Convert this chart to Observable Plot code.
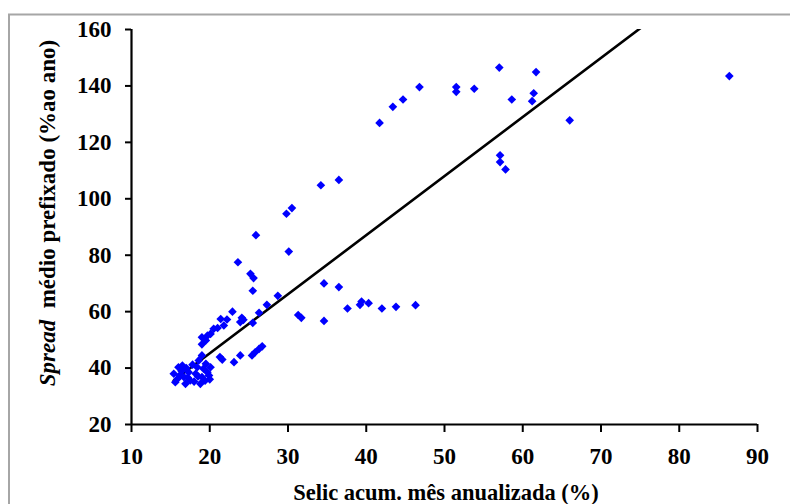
<!DOCTYPE html>
<html>
<head>
<meta charset="utf-8">
<script src="https://cdn.jsdelivr.net/npm/d3@7"></script>
<script src="https://cdn.jsdelivr.net/npm/@observablehq/plot@0.6"></script>
<style>
  html, body { margin: 0; padding: 0; background: #fff; }
  #chart { width: 790px; height: 504px; overflow: hidden; }
</style>
</head>
<body>
<div id="chart"></div>
<script>
// Selic acumulada no mês anualizada (%)
const selic = [
  41.7, 43.4, 44.7, 46.8, 51.5, 51.5, 53.8, 57.0, 61.7, 58.6, 61.4, 61.2, 66.0, 57.1, 57.1, 57.8, 86.4,
  29.8, 30.5, 34.2, 36.5, 25.9, 30.1, 23.6, 25.2, 25.6, 25.5, 28.7, 27.3, 26.3, 34.6, 36.5, 37.6, 39.2, 39.4, 40.3, 42.0, 43.8, 46.3,
  31.3, 31.7, 34.6, 22.9, 24.1, 24.3, 23.9, 25.5, 22.2, 21.4, 21.8, 21.0, 20.5, 20.1, 19.7, 19.0, 19.5, 19.0,
  26.7, 26.3, 25.8, 25.4, 23.9, 23.1, 21.6, 21.3, 19.0,
  15.4, 15.6, 16.0, 16.5, 16.7, 16.9, 17.3, 17.5, 18.2, 18.4, 18.6, 18.8, 19.0, 19.2, 19.5, 19.7, 19.9, 20.1,
  16.2, 17.0, 15.9, 18.0, 19.4, 20.0, 17.8, 16.4, 18.5, 17.2
];
// Spread médio prefixado (% ao ano)
const spread = [
  126.9, 132.6, 135.2, 139.6, 139.6, 137.9, 139.0, 146.5, 144.9, 135.2, 137.4, 134.6, 127.8, 115.4, 113.0, 110.4, 143.5,
  94.7, 96.7, 104.8, 106.7, 87.1, 81.3, 77.5, 73.4, 71.9, 67.4, 65.6, 62.4, 59.6, 70.0, 68.7, 61.1, 62.4, 63.6, 63.0, 61.1, 61.7, 62.3,
  58.8, 57.8, 56.7, 60.0, 57.8, 57.1, 56.3, 56.0, 57.2, 57.4, 55.1, 54.2, 53.9, 52.1, 51.5, 50.9, 49.8, 48.4,
  47.7, 46.8, 45.6, 44.5, 44.5, 42.1, 43.0, 43.9, 44.5,
  38.0, 35.0, 40.3, 40.9, 36.8, 34.4, 38.5, 35.6, 38.0, 40.3, 42.7, 34.4, 36.8, 39.8, 41.5, 38.5, 37.4, 40.3,
  37.5, 40.0, 36.2, 35.2, 35.5, 36.0, 41.2, 39.0, 37.0, 36.6
];
// trend line
const trendIntercept = 3.35;
const trendSlope = 2.094;
const trendX = [15.4, 86.4];

const xTicks = [10, 20, 30, 40, 50, 60, 70, 80, 90];
const yTicks = [20, 40, 60, 80, 100, 120, 140, 160];

const points = selic.map((x, i) => ({x, y: spread[i]}));

const svg = Plot.plot({
  width: 790,
  height: 504,
  marginLeft: 131,
  marginRight: 33,
  marginTop: 29,
  marginBottom: 80,
  style: {fontFamily: "'Liberation Serif', 'Times New Roman', serif", fontSize: "23px", fontWeight: "bold", color: "#000", background: "#fff", overflow: "visible"},
  x: {domain: [10, 90]},
  y: {domain: [20, 160]},
  marks: [
    Plot.axisX({ticks: xTicks, tickSize: 8, tickPadding: 15, strokeWidth: 2, label: null, tickFormat: d => d}),
    Plot.axisY({ticks: yTicks, tickSize: 6, tickPadding: 14, strokeWidth: 2, label: null, tickFormat: d => d}),
    Plot.ruleY([20], {stroke: "#000", strokeWidth: 2.2}),
    Plot.ruleX([10], {stroke: "#000", strokeWidth: 2.2}),
    Plot.line(trendX, {x: d => d, y: d => trendIntercept + trendSlope * d, stroke: "#000", strokeWidth: 2.6, clip: true}),
    Plot.dot(points, {x: "x", y: "y", symbol: "diamond2", r: 3.9, fill: "#0000ff", stroke: "none"})
  ]
});

const s = d3.select(svg);
// outer frame (top and left edges)
s.append("path")
  .attr("d", "M9,504V14.5H790")
  .attr("fill", "none")
  .attr("stroke", "#a6a6a6")
  .attr("stroke-width", 2);

// y axis label
const yl = s.append("text")
  .attr("transform", "translate(55,213) rotate(-90)")
  .attr("text-anchor", "middle")
  .attr("font-size", 23)
  .attr("font-weight", "bold")
  .attr("fill", "#000");
yl.append("tspan").attr("font-style", "italic").text("Spread");
yl.append("tspan").text("\u00a0 médio prefixado (%ao ano)");

// x axis label
s.append("text")
  .attr("x", 446)
  .attr("y", 500)
  .attr("text-anchor", "middle")
  .attr("font-size", 22.5)
  .attr("font-weight", "bold")
  .attr("fill", "#000")
  .text("Selic acum. mês anualizada (%)");

document.getElementById("chart").appendChild(svg);
</script>
</body>
</html>
